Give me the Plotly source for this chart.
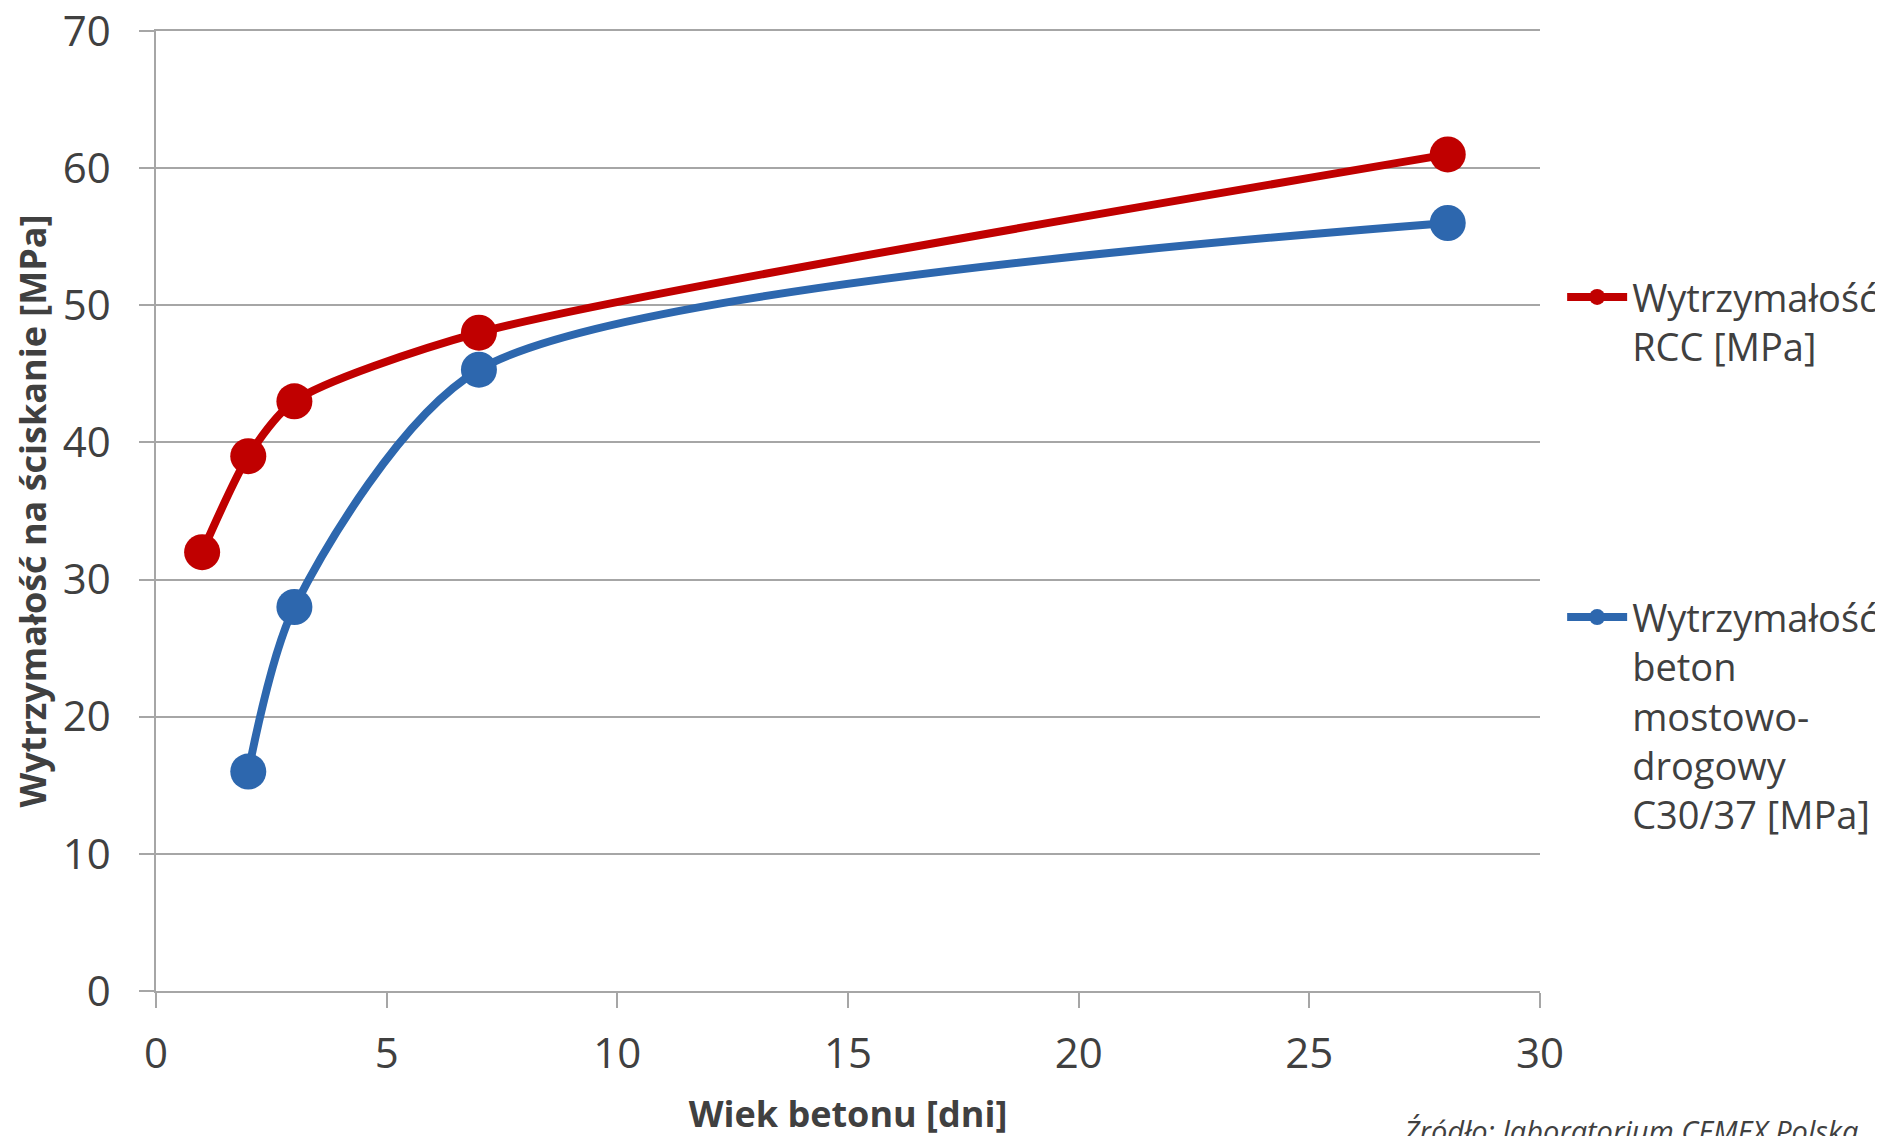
import plotly.graph_objects as go

days_rcc = [1, 2, 3, 7, 28]
rcc = [32, 39, 43, 48, 61]
days_beton = [2, 3, 7, 28]
beton = [16, 28, 45.3, 56]

name_rcc = "Wytrzymałość<br>RCC [MPa]"
name_beton = "Wytrzymałość<br>beton<br>mostowo-<br>drogowy<br>C30/37 [MPa]"
x_title = "Wiek betonu [dni]"
y_title = "Wytrzymałość na ściskanie [MPa]"
source = "Źródło: laboratorium CEMEX Polska"

RED = "#C00000"
BLUE = "#2D67AE"
GRID = "#A6A6A6"
TXT = "#404040"
FONT = "Open Sans"

fig = go.Figure()
fig.add_trace(go.Scatter(
    x=days_rcc, y=rcc, name=name_rcc, mode="lines+markers",
    line=dict(color=RED, width=8, shape="spline", smoothing=0.7),
    marker=dict(color=RED, size=36), legend="legend"))
fig.add_trace(go.Scatter(
    x=days_beton, y=beton, name=name_beton, mode="lines+markers",
    line=dict(color=BLUE, width=8, shape="spline", smoothing=0.75),
    marker=dict(color=BLUE, size=36), legend="legend2"))

axis_common = dict(
    showline=True, linecolor=GRID, linewidth=1.5,
    ticks="outside", ticklen=15, tickcolor=GRID, tickwidth=1.5,
    tickfont=dict(family=FONT, size=42, color=TXT),
    zeroline=False, fixedrange=True, automargin=False,
    ticklabeloverflow="allow",
)

fig.update_xaxes(range=[0, 30], dtick=5, showgrid=False, mirror=True,
                 ticklabelstandoff=10,
                 title=dict(text=f"<b>{x_title}</b>", standoff=23,
                            font=dict(family=FONT, size=36, color=TXT)),
                 **axis_common)
fig.update_yaxes(range=[0, 70], dtick=10, showgrid=True, gridcolor=GRID,
                 gridwidth=1.5, ticklabelstandoff=20,
                 title=dict(text=f"<b>{y_title}</b>", standoff=14,
                            font=dict(family=FONT, size=36, color=TXT)),
                 **axis_common)

legend_common = dict(font=dict(family=FONT, size=38, color=TXT),
                     bgcolor="rgba(0,0,0,0)", valign="top",
                     xanchor="left", yanchor="top", itemsizing="trace",
                     itemwidth=60)

fig.update_layout(
    width=1883, height=1136,
    margin=dict(l=148, r=351, t=23, b=153, autoexpand=False),
    plot_bgcolor="white", paper_bgcolor="white",
    showlegend=True,
    legend=dict(x=1.016, y=0.7555, **legend_common),
    legend2=dict(x=1.016, y=0.422, **legend_common),
    annotations=[dict(
        text=f"<i>{source}</i>", xref="paper", yref="paper",
        x=0.8997, y=-0.123, xanchor="left", yanchor="top", showarrow=False,
        font=dict(family=FONT, size=29, color=TXT))],
)

fig.write_html("out.html")
